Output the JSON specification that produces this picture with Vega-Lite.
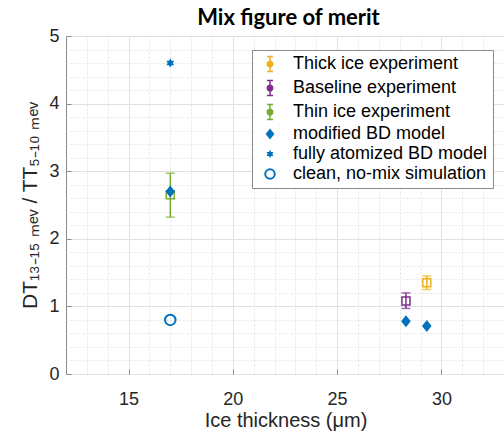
{
  "$schema": "https://vega.github.io/schema/vega-lite/v6.json",
  "width": 439,
  "height": 338,
  "autosize": "none",
  "padding": {"left": 66, "top": 36, "right": 0, "bottom": 63},
  "background": "white",
  "title": {"text": "Mix figure of merit", "font": "Lato", "fontWeight": "bold", "fontSize": 22, "color": "#000000", "baseline": "alphabetic", "offset": -20, "dx": 3},
  "datasets": {
    "pts": [
      {"series": "Thick ice experiment", "x": 29.3, "y": 1.35, "lo": 1.25, "hi": 1.45},
      {"series": "Baseline experiment", "x": 28.3, "y": 1.08, "lo": 0.97, "hi": 1.2},
      {"series": "Thin ice experiment", "x": 17, "y": 2.65, "lo": 2.32, "hi": 2.97},
      {"series": "modified BD model", "x": 17, "y": 2.7, "lo": null, "hi": null},
      {"series": "modified BD model", "x": 28.3, "y": 0.78, "lo": null, "hi": null},
      {"series": "modified BD model", "x": 29.3, "y": 0.71, "lo": null, "hi": null},
      {"series": "fully atomized BD model", "x": 17, "y": 4.6, "lo": null, "hi": null},
      {"series": "clean, no-mix simulation", "x": 17, "y": 0.8, "lo": null, "hi": null}
    ]
  },
  "data": {"name": "pts"},
  "encoding": {
    "x": {"field": "x", "type": "quantitative", "scale": {"domain": [12, 33.05], "nice": false, "zero": false},
      "axis": {"orient": "bottom", "values": [13,14,15,16,17,18,19,20,21,22,23,24,25,26,27,28,29,30,31,32,33], "grid": true, "labelOverlap": false,
        "gridColor": {"condition": {"test": "datum.value % 5 === 0", "value": "#e0e0e0"}, "value": "#e4e4e4"},
        "gridDash": {"condition": {"test": "datum.value % 5 === 0", "value": []}, "value": [2, 2]},
        "labelExpr": "datum.value % 5 === 0 ? format(datum.value, 'd') : ''",
        "tickOpacity": {"condition": {"test": "datum.value % 5 === 0", "value": 1}, "value": 0},
        "domain": false, "tickColor": "#8a8a8a", "tickSize": -5, "labelPadding": 21, "labelFont": "Liberation Sans", "labelFontSize": 18, "labelColor": "#262626",
        "title": "Ice thickness (μm)", "titleFont": "Liberation Sans", "titleFontSize": 20, "titleFontWeight": "normal", "titleColor": "#262626", "titlePadding": 2}},
    "y": {"field": "y", "type": "quantitative", "scale": {"domain": [0, 5], "nice": false, "zero": false},
      "axis": {"orient": "left", "values": [0,0.2,0.4,0.6,0.8,1,1.2,1.4,1.6,1.8,2,2.2,2.4,2.6,2.8,3,3.2,3.4,3.6,3.8,4,4.2,4.4,4.6,4.8,5], "grid": true, "labelOverlap": false,
        "gridColor": {"condition": {"test": "abs(datum.value - round(datum.value)) < 0.001", "value": "#e0e0e0"}, "value": "#e4e4e4"},
        "gridDash": {"condition": {"test": "abs(datum.value - round(datum.value)) < 0.001", "value": []}, "value": [2, 2]},
        "labelExpr": "abs(datum.value - round(datum.value)) < 0.001 ? format(datum.value, 'd') : ''",
        "tickOpacity": {"condition": {"test": "abs(datum.value - round(datum.value)) < 0.001", "value": 1}, "value": 0},
        "domain": false, "tickColor": "#8a8a8a", "tickSize": -5, "labelPadding": 12, "labelFont": "Liberation Sans", "labelFontSize": 18, "labelColor": "#262626",
        "title": "DT₁₃₋₁₅ ₘₑᵥ / TT₅₋₁₀ ₘₑᵥ", "titleFont": "Liberation Sans", "titleFontSize": 21, "titleFontWeight": "normal", "titleColor": "#262626", "titlePadding": 8}},
    "color": {"field": "series", "type": "nominal",
      "scale": {"domain": ["Thick ice experiment", "Baseline experiment", "Thin ice experiment", "modified BD model", "fully atomized BD model", "clean, no-mix simulation"],
                "range": ["#EDB120", "#7E2F8E", "#77AC30", "#0072BD", "#0072BD", "#0072BD"]},
      "legend": {"title": null, "orient": "none", "legendX": 186, "legendY": 14, "direction": "vertical",
        "fillColor": "white", "strokeColor": "#8a8a8a", "padding": 5, "rowPadding": 2,
        "labelFont": "Liberation Sans", "labelFontSize": 18, "labelColor": "#000000", "labelLimit": 400,
        "symbolSize": 144, "symbolOffset": 4, "labelOffset": 14,
        "encode": {"symbols": {"update": {
          "shape": {"signal": "datum.value == 'modified BD model' ? 'M0,-1L0.8,0L0,1L-0.8,0Z' : datum.value == 'fully atomized BD model' ? 'M0,-1L0.866,0.5L-0.866,0.5ZM0,1L-0.866,-0.5L0.866,-0.5Z' : datum.value == 'clean, no-mix simulation' ? 'circle' : 'M0,-1L0,1M-0.4,-1L0.4,-1M-0.4,1L0.4,1M-0.35,-0.15L-0.15,-0.35L0.15,-0.35L0.35,-0.15L0.35,0.15L0.15,0.35L-0.15,0.35L-0.35,0.15Z'"},
          "fill": {"signal": "datum.value == 'Thick ice experiment' ? '#EDB120' : datum.value == 'Baseline experiment' ? '#7E2F8E' : datum.value == 'Thin ice experiment' ? '#77AC30' : '#0072BD'"},
          "fillOpacity": {"signal": "datum.value == 'clean, no-mix simulation' ? 0 : 1"},
          "stroke": {"signal": "datum.value == 'Thick ice experiment' ? '#EDB120' : datum.value == 'Baseline experiment' ? '#7E2F8E' : datum.value == 'Thin ice experiment' ? '#77AC30' : '#0072BD'"},
          "size": {"signal": "datum.value == 'modified BD model' ? 121 : datum.value == 'fully atomized BD model' ? 64 : datum.value == 'clean, no-mix simulation' ? 90 : 225"},
          "strokeWidth": {"signal": "datum.value == 'clean, no-mix simulation' ? 2 : datum.value == 'modified BD model' || datum.value == 'fully atomized BD model' ? 0 : 1.5"},
          "opacity": {"value": 1},
          "strokeOpacity": {"value": 1}
        }}}}}
  },
  "layer": [
    {
      "transform": [{"filter": "isValid(datum.lo)"}],
      "mark": {"type": "rule", "strokeWidth": 1.5},
      "encoding": {"y": {"field": "lo", "type": "quantitative"}, "y2": {"field": "hi"}}
    },
    {
      "transform": [{"filter": "isValid(datum.lo)"}, {"fold": ["lo", "hi"], "as": ["k", "v"]}],
      "mark": {"type": "tick", "orient": "horizontal", "size": 9, "thickness": 1.5},
      "encoding": {"y": {"field": "v", "type": "quantitative"}}
    },
    {
      "transform": [{"filter": "isValid(datum.lo)"}],
      "mark": {"type": "point", "shape": "square", "filled": false, "strokeWidth": 1.5, "size": 64, "opacity": 1}
    },
    {
      "transform": [{"filter": "datum.series == 'modified BD model'"}],
      "mark": {"type": "point", "shape": "M0,-1L0.8,0L0,1L-0.8,0Z", "filled": true, "size": 144, "opacity": 1}
    },
    {
      "transform": [{"filter": "datum.series == 'fully atomized BD model'"}],
      "mark": {"type": "point", "shape": "M0,-1L0.866,0.5L-0.866,0.5ZM0,1L-0.866,-0.5L0.866,-0.5Z", "filled": true, "size": 81, "opacity": 1}
    },
    {
      "transform": [{"filter": "datum.series == 'clean, no-mix simulation'"}],
      "mark": {"type": "point", "shape": "circle", "filled": false, "strokeWidth": 2, "size": 110, "opacity": 1}
    }
  ],
  "config": {"view": {"stroke": "#8a8a8a", "strokeWidth": 1}}
}
